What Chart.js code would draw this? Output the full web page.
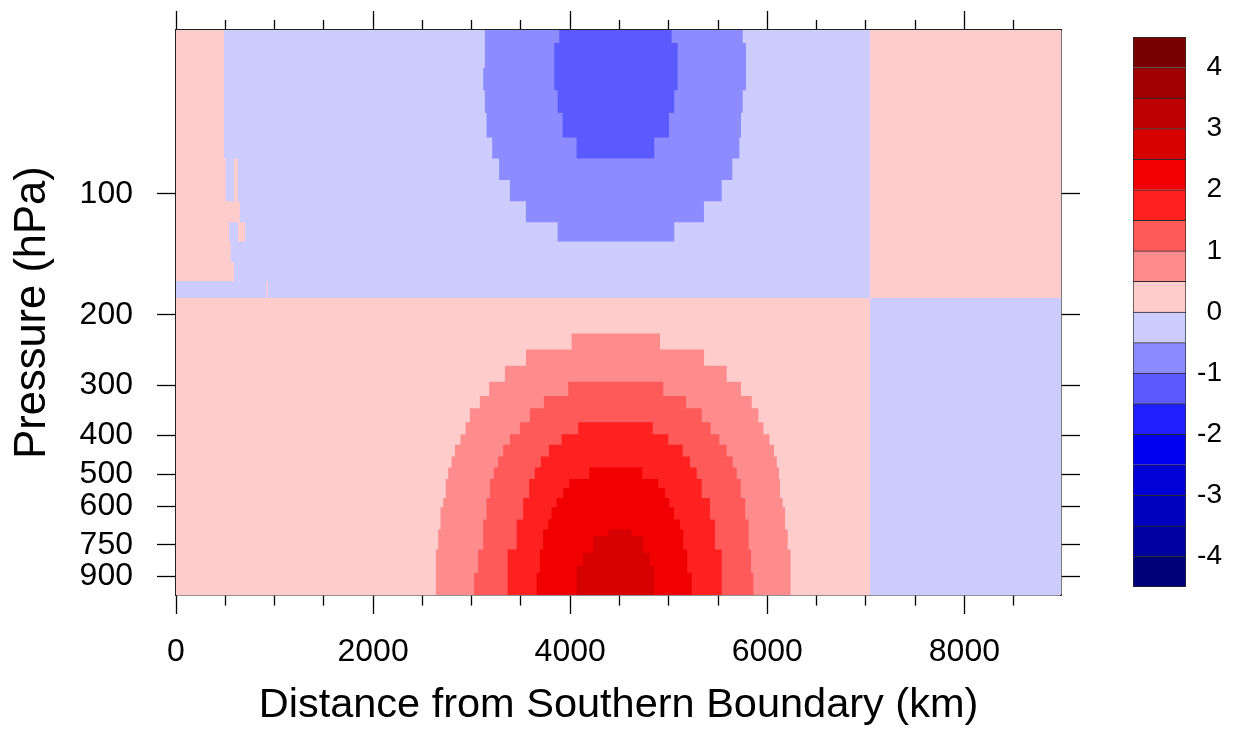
<!DOCTYPE html>
<html>
<head>
<meta charset="utf-8">
<script src="https://cdn.jsdelivr.net/npm/chart.js@4.4.1/dist/chart.umd.min.js"></script>
<style>
  html, body { margin: 0; padding: 0; background: #ffffff; }
  #wrap { position: relative; width: 1239px; height: 730px; }
  canvas { position: absolute; top: 0; }
</style>
</head>
<body>
<div id="wrap">
  <canvas id="main" width="1239" height="730" style="left:0"></canvas>
  <canvas id="cbar" width="139" height="730" style="left:1100px"></canvas>
</div>
<script>
// ---------------- axes ----------------
const X_MAX = 8980;          // km
const P_MIN = 39;            // hPa (top)
const P_MAX = 1000;          // hPa (bottom)
const X_TICKS = [0, 500, 1000, 1500, 2000, 2500, 3000, 3500, 4000, 4500, 5000, 5500, 6000, 6500, 7000, 7500, 8000, 8500];
const X_LABELED = [0, 2000, 4000, 6000, 8000];
const P_TICKS = [100, 200, 300, 400, 500, 600, 750, 900];

// ---------------- colour levels (colorbar) ----------------
const CB_BOUNDS = [-4.5, -4, -3.5, -3, -2.5, -2, -1.5, -1, -0.5, 0, 0.5, 1, 1.5, 2, 2.5, 3, 3.5, 4, 4.5];
const CB_TICKS = [-4, -3, -2, -1, 0, 1, 2, 3, 4];
const CB_COLORS = ['#000078', '#0000a0', '#0000be', '#0000d7', '#0000f0', '#2020ff', '#5a5aff', '#8c8cff', '#ccccff',
                   '#ffcccc', '#ff8c8c', '#ff5a5a', '#ff2020', '#f00000', '#d70000', '#be0000', '#a00000', '#780000'];

// ---------------- field regions: rows of [pTop, pBottom, xLeft, xRight] ----------------
// 0 .. 0.5 background
const POS_000 = [[39, 1000, 0, 8980]];
// -0.5 .. 0 upper region
const NEG_000_UPPER = [
  [39, 81.6, 487, 7043],
  [81.6, 104.3, 505, 7043],
  [104.3, 117.6, 647, 7043],
  [117.6, 131.4, 538, 7043],
  [131.4, 147.9, 555, 7043],
  [147.9, 165.0, 589, 7043],
  [165.0, 181.7, 0, 7043]
];
// -0.5 .. 0 lower right
const NEG_000_RIGHT = [[181.7, 1000, 7043, 8980]];
// small positive islands in the upper-left
const POS_000_ISLANDS = [
  [81.6, 104.3, 589, 626],
  [117.6, 131.4, 629, 700],
  [165.0, 181.7, 918, 931]
];
// <= -0.5
const NEG_050 = [
  [39, 42.0, 3134, 5750],
  [42.0, 48.5, 3134, 5784],
  [48.5, 55.1, 3117, 5784],
  [55.1, 62.7, 3134, 5750],
  [62.7, 72.3, 3151, 5733],
  [72.3, 81.6, 3208, 5716],
  [81.6, 92.3, 3279, 5645],
  [92.3, 104.3, 3388, 5537],
  [104.3, 117.6, 3550, 5357],
  [117.6, 131.4, 3872, 5056]
];
// <= -1
const NEG_100 = [
  [39, 42.0, 3889, 5029],
  [42.0, 55.1, 3838, 5090],
  [55.1, 62.7, 3872, 5056],
  [62.7, 72.3, 3923, 5002],
  [72.3, 81.6, 4065, 4853]
];
// >= 0.5
const POS_050 = [
  [222.8, 244.2, 4014, 4911],
  [244.2, 268.2, 3551, 5358],
  [268.2, 293.9, 3337, 5588],
  [293.9, 319.0, 3178, 5733],
  [319.0, 342.2, 3083, 5842],
  [342.2, 370.8, 2982, 5909],
  [370.8, 397.2, 2938, 5960],
  [397.2, 422.3, 2887, 6021],
  [422.3, 451.4, 2830, 6068],
  [451.4, 480.8, 2796, 6096],
  [480.8, 513.6, 2762, 6119],
  [513.6, 572.8, 2738, 6129],
  [572.8, 604.3, 2711, 6156],
  [604.3, 686.6, 2684, 6180],
  [686.6, 769.9, 2660, 6207],
  [769.9, 1000, 2637, 6237]
];
// >= 1
const POS_100 = [
  [293.9, 319.0, 3980, 4944],
  [319.0, 342.2, 3733, 5175],
  [342.2, 370.8, 3591, 5334],
  [370.8, 397.2, 3489, 5425],
  [397.2, 422.3, 3388, 5513],
  [422.3, 451.4, 3320, 5588],
  [451.4, 480.8, 3269, 5649],
  [480.8, 513.6, 3225, 5689],
  [513.6, 572.8, 3185, 5730],
  [572.8, 648.4, 3151, 5775],
  [648.4, 769.9, 3117, 5810],
  [769.9, 879.7, 3066, 5835],
  [879.7, 1000, 3025, 5858]
];
// >= 1.5
const POS_150 = [
  [370.8, 397.2, 4081, 4837],
  [397.2, 422.3, 3912, 4995],
  [422.3, 451.4, 3784, 5141],
  [451.4, 480.8, 3702, 5215],
  [480.8, 513.6, 3641, 5283],
  [513.6, 572.8, 3584, 5334],
  [572.8, 648.4, 3523, 5418],
  [648.4, 769.9, 3456, 5469],
  [769.9, 1000, 3364, 5537]
];
// >= 2
const POS_200 = [
  [480.8, 513.6, 4193, 4731],
  [513.6, 540.9, 3990, 4893],
  [540.9, 572.8, 3929, 4961],
  [572.8, 604.3, 3862, 5005],
  [604.3, 648.4, 3811, 5053],
  [648.4, 686.6, 3777, 5114],
  [686.6, 769.9, 3726, 5147],
  [769.9, 879.7, 3692, 5188],
  [879.7, 1000, 3659, 5232]
];
// >= 2.5
const POS_250 = [
  [686.6, 713.5, 4386, 4623],
  [713.5, 784.6, 4234, 4741],
  [784.6, 847.1, 4132, 4809],
  [847.1, 1000, 4065, 4850]
];

// layers, bottom to top, with their colour-level index
const LAYERS = [
  { rows: POS_000, level: 9 },
  { rows: NEG_000_UPPER, level: 8 },
  { rows: NEG_000_RIGHT, level: 8 },
  ...POS_000_ISLANDS.map(r => ({ rows: [r], level: 9 })),
  { rows: NEG_050, level: 7 },
  { rows: NEG_100, level: 6 },
  { rows: POS_050, level: 10 },
  { rows: POS_100, level: 11 },
  { rows: POS_150, level: 12 },
  { rows: POS_200, level: 13 },
  { rows: POS_250, level: 14 }
];

// stepped outline of a band from its rows (zero-area spurs at the top keep the
// whole band inside the filler's x clip)
function outline(rows) {
  const xmin = Math.min(...rows.map(r => r[2]));
  const xmax = Math.max(...rows.map(r => r[3]));
  const top = rows[0][0];
  const pts = [{ x: xmin, y: top }];
  for (let i = 0; i < rows.length; i++) {
    const [pt, pb, x0] = rows[i];
    pts.push({ x: x0, y: pt }, { x: x0, y: pb });
  }
  for (let i = rows.length - 1; i >= 0; i--) {
    const [pt, pb, , x1] = rows[i];
    pts.push({ x: x1, y: pb }, { x: x1, y: pt });
  }
  pts.push({ x: xmax, y: top });
  return pts;
}

const FONT = "'Liberation Sans', Helvetica, Arial, sans-serif";
Chart.defaults.font.family = FONT;
Chart.defaults.color = '#000';

const isMajor = v => X_LABELED.includes(v);
const noPad = s => { s.paddingTop = 0; s.paddingBottom = 0; s.paddingLeft = 0; s.paddingRight = 0; };

new Chart(document.getElementById('main'), {
  type: 'scatter',
  data: {
    datasets: LAYERS.map((l, i) => ({
      data: outline(l.rows),
      showLine: true,
      fill: 'shape',
      backgroundColor: CB_COLORS[l.level],
      borderColor: 'rgba(0,0,0,0)',
      borderWidth: 0,
      pointRadius: 0,
      pointHoverRadius: 0,
      tension: 0,
      order: LAYERS.length - i
    }))
  },
  options: {
    responsive: false,
    animation: false,
    events: [],
    layout: { padding: 0, autoPadding: false },
    plugins: { legend: { display: false }, tooltip: { enabled: false } },
    scales: {
      x: {
        type: 'linear', position: 'bottom', min: 0, max: X_MAX,
        afterBuildTicks: s => { s.ticks = X_TICKS.map(v => ({ value: v })); },
        afterFit: s => { s.height = 135; noPad(s); },
        ticks: {
          autoSkip: false, maxRotation: 0, minRotation: 0, padding: 19,
          font: { size: 32 }, color: '#000',
          callback: v => isMajor(v) ? String(v) : ''
        },
        grid: {
          drawOnChartArea: false, drawTicks: true, tickLength: 19,
          tickColor: '#000', tickWidth: 1.3,
          tickBorderDash: c => isMajor(c.tick.value) ? [] : [10, 100]
        },
        border: { display: true, color: '#222', width: 1.6 },
        title: {
          display: true, text: 'Distance from Southern Boundary (km)',
          font: { size: 41.5 }, color: '#000', padding: { top: 0, bottom: 0 }
        }
      },
      x2: {
        type: 'linear', position: 'top', min: 0, max: X_MAX, display: true,
        afterBuildTicks: s => { s.ticks = X_TICKS.map(v => ({ value: v })); },
        afterFit: s => { s.height = 30; noPad(s); },
        ticks: { autoSkip: false, maxRotation: 0, padding: 0, callback: () => '' },
        grid: {
          drawOnChartArea: false, drawTicks: true, tickLength: 19,
          tickColor: '#000', tickWidth: 1.3,
          tickBorderDash: c => isMajor(c.tick.value) ? [] : [0, 9, 10, 100]
        },
        border: { display: true, color: '#222', width: 1.6 }
      },
      y: {
        type: 'logarithmic', position: 'left', reverse: true, min: P_MIN, max: P_MAX,
        afterBuildTicks: s => { s.ticks = P_TICKS.map(v => ({ value: v })); },
        afterFit: s => { s.width = 176; noPad(s); },
        ticks: { autoSkip: false, padding: 24, font: { size: 32 }, color: '#000', callback: v => String(v) },
        grid: { drawOnChartArea: false, drawTicks: true, tickLength: 19, tickColor: '#000', tickWidth: 1.3 },
        border: { display: true, color: '#222', width: 1.6 },
        title: {
          display: true, text: 'Pressure (hPa)',
          font: { size: 43.5 }, color: '#000', padding: { top: 7, bottom: 0 }
        }
      },
      y2: {
        type: 'logarithmic', position: 'right', reverse: true, min: P_MIN, max: P_MAX, display: true,
        afterBuildTicks: s => { s.ticks = P_TICKS.map(v => ({ value: v })); },
        afterFit: s => { s.width = 178; noPad(s); },
        ticks: { autoSkip: false, padding: 0, callback: () => '' },
        grid: { drawOnChartArea: false, drawTicks: true, tickLength: 19, tickColor: '#000', tickWidth: 1.3 },
        border: { display: true, color: '#222', width: 1.6 }
      }
    }
  }
});

// ---------------- colorbar ----------------
new Chart(document.getElementById('cbar'), {
  type: 'bar',
  data: {
    labels: [''],
    datasets: CB_COLORS.map((c, i) => ({
      data: [[CB_BOUNDS[i], CB_BOUNDS[i + 1]]],
      backgroundColor: c,
      borderColor: '#2a2a2a',
      borderWidth: { top: 1, left: 1, right: 1, bottom: i === 0 ? 1 : 0 },
      borderSkipped: false,
      grouped: false,
      barPercentage: 1,
      categoryPercentage: 1
    }))
  },
  options: {
    responsive: false,
    animation: false,
    events: [],
    layout: { padding: { left: 33, top: 37, bottom: 143, right: 17 }, autoPadding: false },
    plugins: { legend: { display: false }, tooltip: { enabled: false } },
    scales: {
      x: { display: false },
      y: {
        type: 'linear', position: 'right', min: -4.5, max: 4.5,
        afterBuildTicks: s => { s.ticks = CB_TICKS.map(v => ({ value: v })); },
        afterFit: s => { s.width = 36; noPad(s); },
        grid: { display: false, drawTicks: false },
        border: { display: false },
        ticks: { padding: 8, crossAlign: 'far', font: { size: 28 }, color: '#000', callback: v => String(v) }
      }
    }
  }
});
</script>
</body>
</html>
